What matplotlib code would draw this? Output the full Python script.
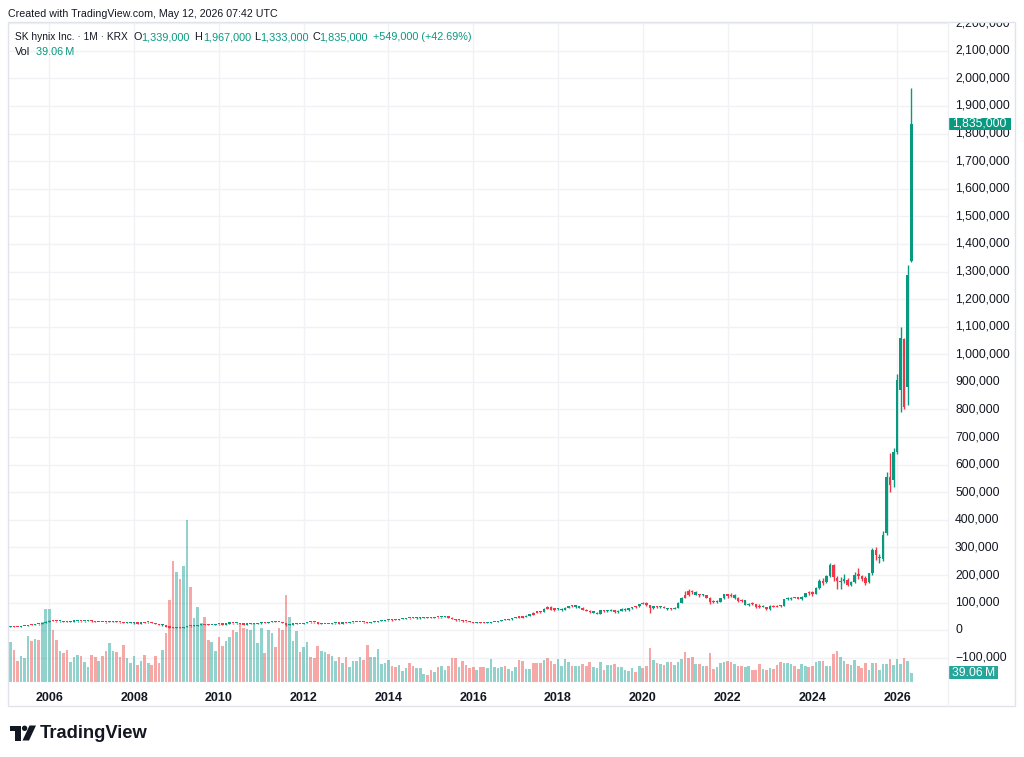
import matplotlib
matplotlib.use('Agg')
import matplotlib.pyplot as plt
import matplotlib.transforms as mtransforms
from matplotlib.patches import Rectangle, Polygon, Circle
import numpy as np
import pandas as pd

plt.rcParams['font.family'] = ['Liberation Sans', 'DejaVu Sans']

# ---------------- data (monthly, Feb 2005 .. May 2026), prices in thousand KRW ----------------
first_month = '2005-02-01'
last_month = '2026-05-01'

opens = [
    12.5, 13, 12.5, 12, 14, 15.5, 19, 19.5, 22, 21.5, 26,
    31, 35, 33, 32, 33.5, 31, 30, 31.5, 32.5, 33, 32, 34,
    35, 32, 30.5, 30, 29, 28.5, 31, 33, 30, 28, 26, 27,
    28, 25, 24, 26, 29.5, 28, 25, 22, 20, 18.5, 13, 9.5,
    8.5, 9, 8.8, 10.5, 13.5, 14, 16.5, 19.5, 20, 21.5, 19, 19.5,
    22, 21, 20.5, 24, 27, 24.5, 25, 22, 20.5, 22.5, 23, 23.5,
    24.5, 28, 27, 31, 32.5, 31, 30, 26, 19.5, 20.5, 23, 22.5,
    23.5, 26.5, 28.5, 29.5, 28, 24, 23, 22.5, 23.5, 24.5, 25, 24,
    26, 27.5, 28, 29.5, 30, 29, 28, 27, 30, 31, 33, 34,
    36, 36, 38, 37, 40, 41, 43, 44.5, 45, 44, 45.5, 46,
    45, 45.5, 47, 47.5, 47, 50, 46, 41, 37, 36, 33, 32,
    30, 27, 27.5, 28, 27, 26.5, 29, 31, 32.5, 37, 37.5, 39,
    44, 47, 46, 49, 53, 55, 64, 67, 66, 78, 84, 75,
    76, 77, 74, 82, 86, 90, 85, 82, 75, 71, 66, 64,
    60, 72, 68, 70, 74, 66, 70, 78, 72, 81, 83, 86,
    95, 97, 91, 80, 86, 84, 83, 81, 77, 77, 80, 99,
    118, 127, 143, 139, 129, 126, 128, 118, 101, 102, 104, 117,
    131, 124, 129, 118, 106, 109, 91, 96, 94, 84, 86, 83,
    76, 87, 85, 89, 87, 113, 113, 117, 119, 113, 121, 134,
    139, 133, 152, 180, 174, 195, 236, 190, 176, 177, 182, 164,
    176, 199, 196, 190, 176, 206, 290, 262, 258, 351, 556, 544,
    647, 870, 1054, 880, 1339,
]
highs = [
    14, 14, 13, 14.5, 16, 19.5, 21, 23, 23, 26.5, 32,
    37, 36, 34, 35, 35, 32, 32.5, 33.5, 34.5, 34, 35, 36.5,
    35.5, 33, 31.5, 31, 30, 32, 34.5, 33.5, 31, 29, 28, 29,
    28.5, 26, 27, 30.5, 31, 28.5, 25.5, 23, 21, 19, 14, 10,
    10, 10, 11, 14, 16, 17.5, 20, 21.5, 23, 22, 20.5, 22.5,
    23.5, 22, 24.5, 28, 27.5, 26, 25.5, 22.5, 23, 24.5, 24.5, 25.5,
    28.5, 29, 31.5, 34, 33, 31.5, 31, 26.5, 22, 24, 24.5, 24,
    27, 29.5, 30.5, 30, 28.5, 24.5, 24, 24, 26, 26, 25.5, 26.5,
    28.5, 29, 30.5, 31, 31, 30, 28.5, 30.5, 32.5, 34, 36, 37,
    38, 39, 39, 41, 42.5, 44, 46, 47, 46.5, 46.5, 48, 47,
    47, 48.5, 49, 49.5, 51.5, 50.5, 46.5, 41.5, 38.5, 37, 34.5, 33,
    30.5, 28.5, 29.5, 29, 28, 29.5, 31.5, 33.5, 38, 39, 40.5, 44.5,
    48.5, 50, 51, 53.5, 57, 65, 69, 70, 79, 87, 89, 78,
    79, 79, 83, 87, 92, 92, 86, 84, 77, 73, 69, 65,
    73, 73, 73, 77, 74, 72, 80, 79, 82, 84, 88, 96,
    102, 102, 93, 88, 88, 89, 86, 82, 81, 84, 101, 120,
    141, 149, 144, 142, 131, 131, 129, 119, 108, 108, 118, 132,
    133, 135, 131, 119, 114, 110, 100, 103, 96, 95, 93, 85,
    90, 91, 90, 92, 114, 122, 119, 122, 121, 125, 136, 142,
    142, 158, 185, 190, 200, 245, 241, 195, 192, 205, 190, 180,
    210, 225, 200, 195, 208, 297, 300, 278, 360, 575, 641, 659,
    930, 1098, 1060, 1323, 1967,
]
lows = [
    12, 12, 11.5, 11.5, 13.5, 15, 18, 19, 20.5, 21, 25.5,
    30, 32, 30.5, 31, 29, 28, 29, 30.5, 31.5, 31, 31.5, 33,
    31, 29.5, 28.5, 28, 27.5, 28, 30.5, 28, 27, 25, 25.5, 26,
    23, 22.5, 23.5, 25.5, 27, 24.5, 21, 19, 16, 11, 8, 7,
    7.5, 8, 8.3, 10, 12.5, 13.5, 16, 18.5, 19.5, 18.5, 18, 19,
    20, 19.5, 20, 23.5, 22, 23, 21.5, 20, 20, 21.5, 22, 23,
    24, 26, 26.5, 30, 29.5, 28.5, 25.5, 17, 18.5, 19.5, 21.5, 21.5,
    23, 26, 27.5, 27.5, 23, 21.5, 21, 22, 23, 23.5, 23.5, 23.5,
    25.5, 26.5, 27.5, 28.5, 28.5, 26.5, 25, 26.5, 29.5, 30.5, 32, 33.5,
    34.5, 35, 36, 36.5, 39, 40, 42, 43, 42, 41.5, 44.5, 43.5,
    43, 44.5, 45.5, 46, 46.5, 45.5, 39.5, 35, 34, 31.5, 31, 29,
    25.5, 26, 26.5, 26, 25.5, 26, 28.5, 30, 32, 35.5, 36, 38.5,
    43.5, 44.5, 45, 47, 51, 54, 62, 63, 65, 76, 74, 70,
    72, 70, 73, 80, 84, 82, 80, 73, 69, 62, 61, 59,
    59, 67, 66, 69, 63, 64, 69, 70, 71, 77, 80, 84,
    94, 88, 63, 78, 81, 80, 79, 74, 75, 76, 79, 98,
    118, 123, 130, 127, 121, 124, 115, 96, 98, 98, 103, 113,
    117, 119, 114, 102, 104, 90, 89, 92, 82, 80, 83, 73,
    75, 83, 84, 85, 86, 108, 110, 115, 112, 111, 120, 129,
    125, 130, 150, 165, 170, 193, 180, 150, 150, 172, 160, 160,
    170, 185, 180, 165, 172, 200, 254, 242, 250, 345, 502, 520,
    640, 790, 800, 816, 1333,
]
closes = [
    13, 12.5, 12, 14, 15.5, 19, 19.5, 22, 21.5, 26, 31,
    35, 33, 32, 33.5, 31, 30, 31.5, 32.5, 33, 32, 34, 35,
    32, 30.5, 30, 29, 28.5, 31, 33, 30, 28, 26, 27, 28,
    25, 24, 26, 29.5, 28, 25, 22, 20, 18.5, 13, 9.5, 8.5,
    9, 8.8, 10.5, 13.5, 14, 16.5, 19.5, 20, 21.5, 19, 19.5, 22,
    21, 20.5, 24, 27, 24.5, 25, 22, 20.5, 22.5, 23, 23.5, 24.5,
    28, 27, 31, 32.5, 31, 30, 26, 19.5, 20.5, 23, 22.5, 23.5,
    26.5, 28.5, 29.5, 28, 24, 23, 22.5, 23.5, 24.5, 25, 24, 26,
    27.5, 28, 29.5, 30, 29, 28, 27, 30, 31, 33, 34, 36,
    36, 38, 37, 40, 41, 43, 44.5, 45, 44, 45.5, 46, 45,
    45.5, 47, 47.5, 47, 50, 46, 41, 37, 36, 33, 32, 30,
    27, 27.5, 28, 27, 26.5, 29, 31, 32.5, 37, 37.5, 39, 44,
    47, 46, 49, 53, 55, 64, 67, 66, 78, 84, 75, 76,
    77, 74, 82, 86, 90, 85, 82, 75, 71, 66, 64, 60,
    72, 68, 70, 74, 66, 70, 78, 72, 81, 83, 86, 95,
    97, 91, 80, 86, 84, 83, 81, 77, 77, 80, 99, 118,
    127, 143, 139, 129, 126, 128, 118, 101, 102, 104, 117, 131,
    124, 129, 118, 106, 109, 91, 96, 94, 84, 86, 83, 76,
    87, 85, 89, 87, 113, 113, 117, 119, 113, 121, 134, 139,
    131, 152, 178, 172, 195, 236, 192, 178, 180, 184, 165, 176,
    199, 198, 186, 170, 206, 291, 272, 266, 345, 556, 526, 647,
    907, 1058, 810, 1286, 1835,
]
# monthly volume, millions of shares
volumes = [
    168, 133, 89, 108, 100, 191, 171, 177, 176, 249, 303,
    303, 215, 174, 130, 119, 133, 85, 103, 113, 109, 82, 62,
    111, 103, 89, 109, 127, 161, 130, 126, 104, 153, 100, 77,
    108, 70, 86, 113, 81, 71, 109, 78, 131, 202, 340, 501,
    455, 427, 481, 674, 394, 264, 310, 246, 271, 176, 168, 130,
    186, 148, 171, 185, 217, 208, 242, 223, 220, 217, 243, 161,
    225, 120, 215, 202, 146, 225, 216, 362, 271, 169, 212, 123,
    144, 168, 103, 100, 150, 130, 123, 116, 109, 86, 105, 78,
    104, 64, 89, 89, 105, 90, 155, 105, 105, 139, 74, 78,
    93, 67, 64, 72, 44, 57, 79, 68, 59, 57, 34, 31,
    51, 40, 63, 67, 48, 66, 100, 100, 64, 86, 72, 57,
    64, 48, 62, 64, 60, 97, 63, 57, 62, 67, 53, 45,
    64, 92, 86, 55, 53, 81, 81, 78, 92, 100, 89, 75,
    96, 67, 96, 82, 67, 67, 67, 76, 67, 85, 64, 57,
    82, 51, 70, 70, 75, 64, 62, 48, 45, 60, 42, 67,
    59, 67, 142, 92, 81, 76, 72, 83, 84, 72, 83, 97,
    125, 101, 104, 73, 76, 65, 65, 120, 55, 62, 79, 83,
    87, 83, 73, 68, 68, 62, 65, 51, 51, 73, 55, 51,
    58, 55, 69, 83, 79, 79, 73, 65, 55, 76, 65, 62,
    65, 83, 87, 87, 65, 65, 115, 129, 104, 87, 76, 69,
    90, 68, 58, 80, 51, 80, 80, 51, 75, 75, 96, 71,
    96, 73, 100, 87, 39.06,
]
# bar direction (u = up/teal, d = down/red) as coloured on the chart
directions = (
    "u d d u u u d u d u u "
    "u d d u d d u u u d u u "
    "d d u d d u u d d d u u "
    "u d u d u d d d u d d d "
    "u d u u d u u u d d u u "
    "d d u u d u d d u u u u "
    "u d u u d d d d u u u d "
    "u u d d d u u d u u d u "
    "d u u u u d d u u u u u "
    "u d d u u u d d u u u d "
    "d u d u u d d d u d d d "
    "d u d d u u u u u d u u "
    "u d d u u d d d u d d d "
    "u u u u d u u d d d u u "
    "u d u u d u u u u u d u "
    "d d d u d u d u d u u u "
    "d d d u d u d d d u u u "
    "d d u d d u u d d d u d "
    "u d d d u u u d d u u d "
    "d u u d u u d d u u d u "
    "u d d d u u d u u u d u "
    "u u d u u"
).split()

year_ticks = [2006, 2008, 2010, 2012, 2014, 2016, 2018, 2020, 2022, 2024, 2026]
price_levels = list(range(-100000, 2200001, 100000))

symbol_title = "SK hynix Inc. \u00b7 1M \u00b7 KRX"
last_ohlc = [("O", "1,339,000"), ("H", "1,967,000"), ("L", "1,333,000"), ("C", "1,835,000")]
change_text = "+549,000 (+42.69%)"
last_price = 1835000
last_volume = 39.06

# ---------------- figure ----------------
W, H = 1024, 757
fig = plt.figure(figsize=(W / 100, H / 100), dpi=100)
fig.patch.set_facecolor('white')

def px_rect(x0, y0, x1, y1):
    return [x0 / W, 1 - y1 / H, (x1 - x0) / W, (y1 - y0) / H]

pane = px_rect(8, 22, 948, 682)
x_lim = (2005.0257, 2027.2006)
p_lim = (-187700, 2204400)
v_lim = (0, 2742)

months = pd.date_range(first_month, last_month, freq='MS')
xpos = np.asarray(months.year + (months.month - 1) / 12.0, dtype=float)
o = np.array(opens) * 1000
h = np.array(highs) * 1000
l = np.array(lows) * 1000
c = np.array(closes) * 1000
vol = np.array(volumes, dtype=float)

UP, DN = '#089981', '#f23645'
VUP, VDN = '#26a69a', '#ef5350'
GRID = '#f0f2f5'
TXT = '#131722'

# grid axes (bottom)
ax_g = fig.add_axes(pane, zorder=0)
ax_g.set_xlim(*x_lim)
ax_g.set_ylim(*p_lim)
for v in price_levels:
    ax_g.axhline(v, color=GRID, lw=1.0, zorder=0)
for yt in year_ticks:
    ax_g.axvline(yt, color=GRID, lw=1.0, zorder=0)
for s in ax_g.spines.values():
    s.set_visible(False)
ax_g.set_yticks([])
ax_g.set_xticks(year_ticks)
ax_g.set_xticklabels([str(y) for y in year_ticks], fontsize=9, fontweight='bold', color=TXT)
ax_g.tick_params(axis='x', length=0, pad=7)

# volume axes (middle)
ax_v = fig.add_axes(pane, zorder=1)
ax_v.patch.set_visible(False)
ax_v.set_xlim(*x_lim)
ax_v.set_ylim(*v_lim)
vcols = [VUP if d == 'u' else VDN for d in directions]
ax_v.bar(xpos, vol, width=0.74 / 12, color=vcols, alpha=0.5, linewidth=0, align='center')
ax_v.axis('off')

# price axes (top)
ax = fig.add_axes(pane, zorder=2)
ax.patch.set_visible(False)
ax.set_xlim(*x_lim)
ax.set_ylim(*p_lim)
ccols = [UP if d == 'u' else DN for d in directions]
ax.vlines(xpos, l, h, colors=ccols, linewidth=1.0)
body_bot = np.minimum(o, c)
body_h = np.maximum(np.abs(c - o), 4000)
ax.bar(xpos, body_h, bottom=body_bot, width=0.72 / 12, color=ccols, linewidth=0, align='center')
ax.axis('off')

# price scale axes
ax_s = fig.add_axes(px_rect(948, 22, 1015, 682), zorder=3)
ax_s.set_xlim(0, 1)
ax_s.set_ylim(*p_lim)
ax_s.axis('off')
for v in price_levels:
    if v == 1800000:
        continue_label = True
    lab = f"{v:,}".replace('-', '\u2212')
    ax_s.text(0.105, v, lab, ha='left', va='center', fontsize=8.7, color=TXT, clip_on=True)
# last price tag (covers the 1,800,000 label partly, as on the chart)
ppx = (p_lim[1] - p_lim[0]) / 660.0
ax_s.add_patch(Rectangle((0.015, last_price - 6.4 * ppx), 0.925, 12.8 * ppx,
                         facecolor=UP, edgecolor='none', zorder=4))
ax_s.text(0.47, last_price, "1,835,000", ha='center', va='center', fontsize=8.7,
          color='white', zorder=5)
# last volume tag
tr = mtransforms.blended_transform_factory(ax_s.transAxes, ax_v.transData)
vpx = (v_lim[1] - v_lim[0]) / 660.0
ax_s.add_patch(Rectangle((0.015, last_volume - 6.6 * vpx), 0.73, 13.2 * vpx,
                         facecolor=VUP, edgecolor='none', transform=tr, zorder=4, clip_on=False))
ax_s.text(0.38, last_volume, "39.06\u2009M", ha='center', va='center', fontsize=8.7,
          color='white', transform=tr, zorder=5)

# overlay in pixel coordinates
ov = fig.add_axes([0, 0, 1, 1], zorder=10)
ov.set_xlim(0, W)
ov.set_ylim(H, 0)
ov.axis('off')
ov.patch.set_visible(False)
BORDER = '#e0e3eb'
ov.add_patch(Rectangle((8, 22), 1007, 684, fill=False, edgecolor=BORDER, lw=1))
ov.plot([948, 948], [22, 706], color='#eef0f3', lw=1)

ov.text(8, 14, "Created with TradingView.com, May 12, 2026 07:42 UTC", fontsize=7.7,
        color=TXT, ha='left', va='center')
ov.text(15, 37.5, symbol_title, fontsize=7.3, color=TXT, ha='left', va='center')
label_x = [133.3, 194.3, 254, 312.7]
value_x = [140.7, 202.7, 260, 319.3]
for (k, val), lx, vx in zip(last_ohlc, label_x, value_x):
    ov.text(lx, 37.5, k, fontsize=7.8, color=TXT, ha='left', va='center')
    ov.text(vx, 37.5, val, fontsize=7.8, color=UP, ha='left', va='center')
ov.text(373.3, 37.5, change_text, fontsize=7.8, color=UP, ha='left', va='center')
ov.text(15, 52.3, "Vol", fontsize=7.8, color=TXT, ha='left', va='center')
ov.text(36, 52.3, "39.06\u2009M", fontsize=7.8, color=UP, ha='left', va='center')

# TradingView logo
ov.add_patch(Polygon([(10, 725.5), (20.5, 725.5), (20.5, 740.5), (15.2, 740.5), (15.2, 730.8), (10, 730.8)],
                     closed=True, facecolor=TXT, edgecolor='none'))
ov.add_patch(Circle((24.6, 728.3), 2.7, facecolor=TXT, edgecolor='none'))
ov.add_patch(Polygon([(22.5, 740.5), (29.5, 725.5), (36, 725.5), (29, 740.5)],
                     closed=True, facecolor=TXT, edgecolor='none'))
ov.text(40, 733, "TradingView", fontsize=13.2, fontweight='bold', color=TXT,
        ha='left', va='center')

fig.savefig('out.png', dpi=100, facecolor='white')
